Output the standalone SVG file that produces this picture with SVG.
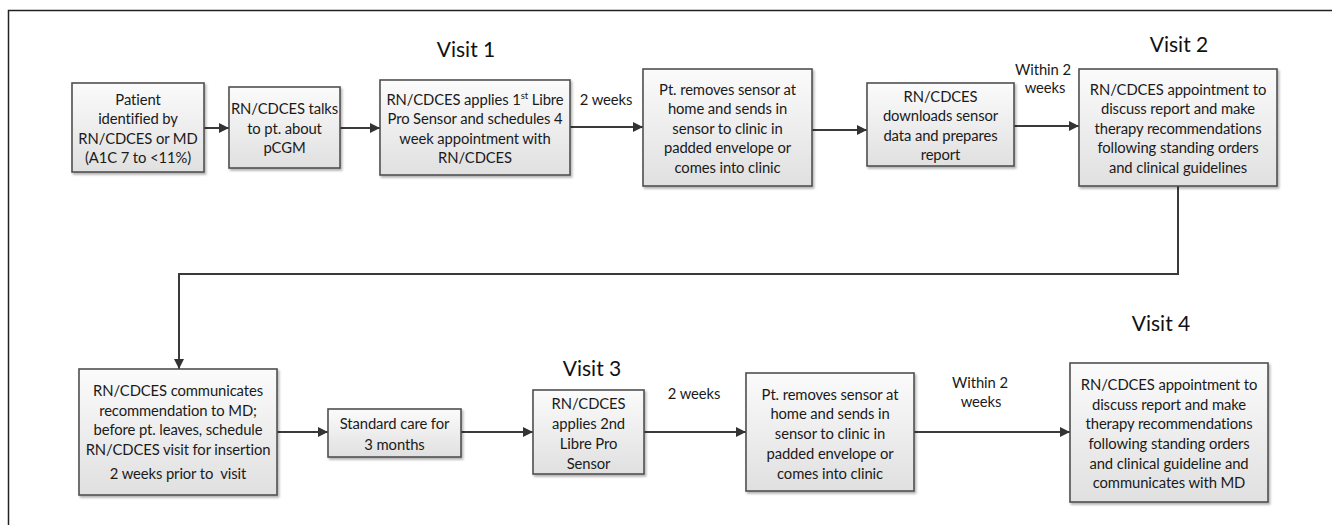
<svg xmlns="http://www.w3.org/2000/svg" width="1332" height="525" viewBox="0 0 1332 525">
<style>
.box{fill:url(#g);stroke:#505050;stroke-width:1.6;filter:url(#sh)}
.t{font-family:Lato,"Liberation Sans",sans-serif;font-size:14.8px;letter-spacing:-0.1px;fill:#1a1a1a;text-anchor:middle}
.v{font-family:Lato,"Liberation Sans",sans-serif;font-size:21px;fill:#111;text-anchor:middle}
.c{fill:none;stroke:#3a3a3a;stroke-width:2;marker-end:url(#ah)}
</style>
<defs>
<linearGradient id="g" x1="0" y1="0" x2="0" y2="1">
<stop offset="0" stop-color="#fbfbfb"/>
<stop offset="1" stop-color="#e0e0e0"/>
</linearGradient>
<filter id="sh" x="-10%" y="-10%" width="120%" height="130%">
<feDropShadow dx="1.5" dy="2" stdDeviation="1.2" flood-color="#000" flood-opacity="0.3"/>
</filter>
<marker id="ah" viewBox="0 0 10 10" refX="10" refY="5" markerWidth="10" markerHeight="10" markerUnits="userSpaceOnUse" orient="auto">
<path d="M0,0 L10,5 L0,10 Z" fill="#333"/>
</marker>
</defs>
<rect width="1332" height="525" fill="#fff"/>
<path d="M1332,10.5 H8.5 V525" fill="none" stroke="#222" stroke-width="1.5"/>

<g id="labels">
<text class="v" x="466" y="57">Visit 1</text>
<text class="v" x="1179" y="52">Visit 2</text>
<text class="v" x="592" y="376">Visit 3</text>
<text class="v" x="1161" y="331">Visit 4</text>
<text class="t" x="606" y="105">2 weeks</text>
<text class="t" x="1043" y="75">Within 2</text>
<text class="t" x="1045" y="93">weeks</text>
<text class="t" x="694" y="399">2 weeks</text>
<text class="t" x="980" y="388">Within 2</text>
<text class="t" x="981" y="407">weeks</text>
</g>

<g id="connectors">
<path class="c" d="M204,128 H229"/>
<path class="c" d="M340,128 H380"/>
<path class="c" d="M570,127 H643"/>
<path class="c" d="M812,130 H867"/>
<path class="c" d="M1014,126 H1079"/>
<path class="c" d="M1178,186 V274 H179 V369"/>
<path class="c" d="M277,432 H328"/>
<path class="c" d="M461,432 H533"/>
<path class="c" d="M644,432 H746"/>
<path class="c" d="M914,432 H1070"/>
</g>

<g id="n1">
<rect class="box" x="72" y="83" width="132" height="89"/>
<text class="t" x="138" y="104.5">Patient</text>
<text class="t" x="138" y="124">identified by</text>
<text class="t" x="138" y="143.5">RN/CDCES or MD</text>
<text class="t" x="138" y="163">(A1C 7 to &lt;11%)</text>
</g>
<g id="n2">
<rect class="box" x="229" y="87" width="111" height="81"/>
<text class="t" x="284.5" y="114">RN/CDCES talks</text>
<text class="t" x="284.5" y="133.5">to pt. about</text>
<text class="t" x="284.5" y="153">pCGM</text>
</g>
<g id="n3">
<rect class="box" x="380" y="80" width="190" height="95"/>
<text class="t" x="475" y="104.5">RN/CDCES applies 1<tspan font-size="9.5" dy="-6">st</tspan><tspan dy="6"> Libre</tspan></text>
<text class="t" x="475" y="124">Pro Sensor and schedules 4</text>
<text class="t" x="475" y="143.5">week appointment with</text>
<text class="t" x="475" y="163">RN/CDCES</text>
</g>
<g id="n4">
<rect class="box" x="643" y="69" width="169" height="117"/>
<text class="t" x="727.5" y="94.5">Pt. removes sensor at</text>
<text class="t" x="727.5" y="114">home and sends in</text>
<text class="t" x="727.5" y="133.5">sensor to clinic in</text>
<text class="t" x="727.5" y="153">padded envelope or</text>
<text class="t" x="727.5" y="172.5">comes into clinic</text>
</g>
<g id="n5">
<rect class="box" x="867" y="83" width="147" height="83"/>
<text class="t" x="940.5" y="101.5">RN/CDCES</text>
<text class="t" x="940.5" y="121">downloads sensor</text>
<text class="t" x="940.5" y="140.5">data and prepares</text>
<text class="t" x="940.5" y="160">report</text>
</g>
<g id="n6">
<rect class="box" x="1079" y="69" width="198" height="117"/>
<text class="t" x="1178" y="94.5">RN/CDCES appointment to</text>
<text class="t" x="1178" y="114">discuss report and make</text>
<text class="t" x="1178" y="133.5">therapy recommendations</text>
<text class="t" x="1178" y="153">following standing orders</text>
<text class="t" x="1178" y="172.5">and clinical guidelines</text>
</g>
<g id="n7">
<rect class="box" x="79" y="369" width="198" height="126"/>
<text class="t" x="178" y="396">RN/CDCES communicates</text>
<text class="t" x="178" y="415.5">recommendation to MD;</text>
<text class="t" x="178" y="435">before pt. leaves, schedule</text>
<text class="t" x="178" y="455">RN/CDCES visit for insertion</text>
<text class="t" x="178" y="479">2 weeks prior to&#160; visit</text>
</g>
<g id="n8">
<rect class="box" x="328" y="409" width="133" height="48"/>
<text class="t" x="394.5" y="429">Standard care for</text>
<text class="t" x="394.5" y="449.5">3 months</text>
</g>
<g id="n9">
<rect class="box" x="533" y="390" width="111" height="84"/>
<text class="t" x="588.5" y="409">RN/CDCES</text>
<text class="t" x="588.5" y="429">applies 2nd</text>
<text class="t" x="588.5" y="449">Libre Pro</text>
<text class="t" x="588.5" y="469">Sensor</text>
</g>
<g id="n10">
<rect class="box" x="746" y="373" width="168" height="118"/>
<text class="t" x="830" y="399.5">Pt. removes sensor at</text>
<text class="t" x="830" y="419">home and sends in</text>
<text class="t" x="830" y="439">sensor to clinic in</text>
<text class="t" x="830" y="459">padded envelope or</text>
<text class="t" x="830" y="479">comes into clinic</text>
</g>
<g id="n11">
<rect class="box" x="1070" y="363" width="198" height="139"/>
<text class="t" x="1169" y="389.5">RN/CDCES appointment to</text>
<text class="t" x="1169" y="409.5">discuss report and make</text>
<text class="t" x="1169" y="429">therapy recommendations</text>
<text class="t" x="1169" y="449">following standing orders</text>
<text class="t" x="1169" y="468.5">and clinical guideline and</text>
<text class="t" x="1169" y="488">communicates with MD</text>
</g>
</svg>
